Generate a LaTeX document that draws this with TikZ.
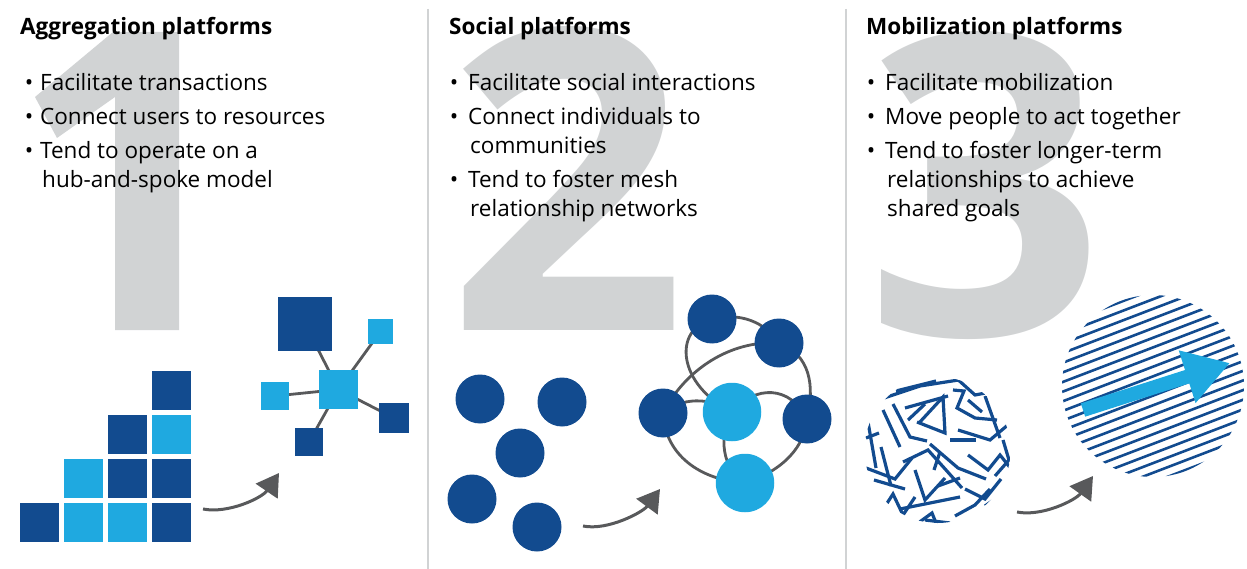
\documentclass[tikz,border=0pt]{standalone}
\usepackage{fontspec}
\setmainfont{Open Sans}
\usetikzlibrary{arrows.meta,backgrounds}

\definecolor{darkblue}{HTML}{124B8F}
\definecolor{lightblue}{HTML}{1FA9E0}
\definecolor{numgray}{HTML}{D1D3D4}
\definecolor{linegray}{HTML}{58595B}

\tikzset{
  sqdark/.style={rectangle,inner sep=0pt,fill=darkblue},
  sqlight/.style={rectangle,inner sep=0pt,fill=lightblue},
  dotdark/.style={circle,inner sep=0pt,minimum size=49pt,fill=darkblue},
  dotlight/.style={circle,inner sep=0pt,minimum size=58.5pt,fill=lightblue},
  spoke/.style={line width=2.8pt,color=linegray},
  mesh/.style={line width=2.8pt,color=linegray},
  maze/.style={line width=3.2pt,color=darkblue,line join=miter},
  stripe/.style={line width=2.6pt,color=darkblue},
  flow/.style={line width=3pt,color=linegray,-{Triangle[length=22pt,width=26pt]}},
  bigarrow/.style={line width=14pt,color=lightblue,-{Triangle[length=45pt,width=52pt]}},
  ttl/.style={anchor=base west,inner sep=0pt,font=\fontsize{22.5}{27}\selectfont\bfseries},
  txt/.style={anchor=base west,inner sep=0pt,font=\fontsize{22.5}{27}\selectfont},
  bul/.style={anchor=base,inner sep=0pt,font=\fontsize{22.5}{27}\selectfont},
  digit/.style={anchor=base west,inner sep=0pt,text=numgray,font=\fontsize{420}{420}\selectfont\bfseries},
  divider/.style={line width=2.5pt,color=numgray}
}

\begin{document}
\begin{tikzpicture}[x=1pt,y=-1pt]
  \useasboundingbox (0,0) rectangle (1247,569);

  % big numbers and column dividers
  \begin{scope}[on background layer]
    \fill[numgray] (113,32) -- (179,32) -- (179,330) -- (115,330) -- (115,97) -- (57,138) -- (35,97) -- cycle;
    \node[digit] (d2) at (447,330) {2};
    \node[digit] (d3) at (865,335) {3};
    \coordinate (v1t) at (428,9);
    \coordinate (v1b) at (428,569);
    \coordinate (v2t) at (846,9);
    \coordinate (v2b) at (846,569);
    \draw[divider] (v1t) -- (v1b);
    \draw[divider] (v2t) -- (v2b);
  \end{scope}

  % column 1
  \node[ttl] (h1) at (20,35) {Aggregation platforms};
  \node[bul] (b11) at (29,91) {•};
  \node[txt] (t11) at (40,91) {Facilitate transactions};
  \node[bul] (b12) at (29,125) {•};
  \node[txt] (t12) at (40,125) {Connect users to resources};
  \node[bul] (b13) at (29,159) {•};
  \node[txt] (t13) at (40,159) {Tend to operate on a};
  \node[txt] (t13b) at (42,188) {hub-and-spoke model};

  \node[sqdark,minimum size=39pt]  (g11) at (39.5,522.5) {};
  \node[sqlight,minimum size=39pt] (g12) at (83.5,522.5) {};
  \node[sqlight,minimum size=39pt] (g13) at (127.5,522.5) {};
  \node[sqdark,minimum size=39pt]  (g14) at (171.5,522.5) {};
  \node[sqlight,minimum size=39pt] (g22) at (83.5,478.5) {};
  \node[sqdark,minimum size=39pt]  (g23) at (127.5,478.5) {};
  \node[sqdark,minimum size=39pt]  (g24) at (171.5,478.5) {};
  \node[sqdark,minimum size=39pt]  (g33) at (127.5,434.5) {};
  \node[sqlight,minimum size=39pt] (g34) at (171.5,434.5) {};
  \node[sqdark,minimum size=39pt]  (g44) at (171.5,390.5) {};

  \node[sqlight,minimum size=39pt] (hub) at (338.5,389.5) {};
  \node[sqdark,minimum size=54pt]  (sbig) at (305,324) {};
  \node[sqlight,minimum size=25pt] (stop) at (380.5,331.5) {};
  \node[sqlight,minimum size=28pt] (sleft) at (275,396) {};
  \node[sqdark,minimum size=30pt]  (sright) at (394,418) {};
  \node[sqdark,minimum size=28pt]  (sbot) at (309,442) {};
  \begin{scope}[on background layer]
    \draw[spoke] (hub.center) -- (sbig.center);
    \draw[spoke] (hub.center) -- (stop.center);
    \draw[spoke] (hub.center) -- (sleft.center);
    \draw[spoke] (hub.center) -- (sright.center);
    \draw[spoke] (hub.center) -- (sbot.center);
  \end{scope}

  \coordinate (f1s) at (203,509);
  \coordinate (f1e) at (279,473);
  \draw[flow] (f1s) .. controls (228,514) and (262,498) .. (f1e);

  % column 2
  \node[ttl] (h2) at (449,35) {Social platforms};
  \node[bul] (b21) at (454,91) {•};
  \node[txt] (t21) at (468,91) {Facilitate social interactions};
  \node[bul] (b22) at (454,125) {•};
  \node[txt] (t22) at (468,125) {Connect individuals to};
  \node[txt] (t22b) at (470,154) {communities};
  \node[bul] (b23) at (454,188) {•};
  \node[txt] (t23) at (468,188) {Tend to foster mesh};
  \node[txt] (t23b) at (470,217) {relationship networks};

  \node[dotdark] (c1) at (480,399) {};
  \node[dotdark] (c2) at (562,402) {};
  \node[dotdark] (c3) at (520,453) {};
  \node[dotdark] (c4) at (472,499) {};
  \node[dotdark] (c5) at (537,527) {};

  \node[dotdark]  (n1) at (712,319) {};
  \node[dotdark]  (n2) at (779,343) {};
  \node[dotdark]  (n3) at (663,413) {};
  \node[dotlight] (n4) at (732,412) {};
  \node[dotdark]  (n5) at (807,419) {};
  \node[dotlight] (n6) at (745,483) {};
  \begin{scope}[on background layer]
    \draw[mesh] (n1.center) .. controls (740,312) and (765,322) .. (n2.center);
    \draw[mesh] (n1.center) .. controls (672,330) and (678,385) .. (n4.center);
    \draw[mesh] (n3.center) .. controls (685,370) and (730,340) .. (n2.center);
    \draw[mesh] (n2.center) .. controls (810,355) and (815,385) .. (n5.center);
    \draw[mesh] (n3.center) .. controls (680,398) and (710,396) .. (n4.center);
    \draw[mesh] (n4.center) .. controls (755,385) and (790,385) .. (n5.center);
    \draw[mesh] (n3.center) .. controls (665,455) and (700,480) .. (n6.center);
    \draw[mesh] (n4.center) .. controls (718,435) and (722,470) .. (n6.center);
    \draw[mesh] (n5.center) .. controls (805,445) and (785,470) .. (n6.center);
  \end{scope}

  \coordinate (f2s) at (583,526);
  \coordinate (f2e) at (660,489);
  \draw[flow] (f2s) .. controls (608,531) and (643,512) .. (f2e);

  % column 3
  \node[ttl] (h3) at (866,35) {Mobilization platforms};
  \node[bul] (b31) at (871,91) {•};
  \node[txt] (t31) at (885,91) {Facilitate mobilization};
  \node[bul] (b32) at (871,125) {•};
  \node[txt] (t32) at (885,125) {Move people to act together};
  \node[bul] (b33) at (871,159) {•};
  \node[txt] (t33) at (885,159) {Tend to foster longer-term};
  \node[txt] (t33b) at (887,188) {relationships to achieve};
  \node[txt] (t33c) at (887,217) {shared goals};

  % scattered pattern
  \begin{scope}
    \clip (937.5,450) circle[radius=73];
    \draw[maze] (878,400) -- (920,386) -- (965,379);
    \draw[maze] (896,391) -- (936,381);
    \draw[maze] (955,377) -- (975,395) -- (996,391);
    \draw[maze] (905,408) -- (948,396);
    \draw[maze] (919,423) -- (943,397) -- (945,433) -- (917,422);
    \draw[maze] (953,390) -- (964,391) -- (957,408) -- (975,418) -- (997,420);
    \draw[maze] (985,396) -- (1000,438);
    \draw[maze] (868,422) -- (876,468);
    \draw[maze] (883,410) -- (900,447);
    \draw[maze] (893,404) -- (910,437) -- (927,441);
    \draw[maze] (958,430) -- (990,440) -- (1009,424);
    \draw[maze] (903,462) -- (928,450) -- (946,470) -- (962,488);
    \draw[maze] (930,444) -- (958,468) -- (986,479);
    \draw[maze] (866,468) -- (895,479) -- (912,458);
    \draw[maze] (968,455) -- (988,470) -- (1000,455) -- (1012,470);
    \draw[maze] (915,470) -- (925,500) -- (945,478);
    \draw[maze] (881,447) -- (891,486);
    \draw[maze] (950,440) -- (976,440);
    \draw[maze] (868,494) -- (882,511) -- (893,494) -- (903,515) -- (915,497);
    \draw[maze] (900,509) -- (960,497);
    \draw[maze] (914,526) -- (932,513) -- (938,528);
    \draw[maze] (955,516) -- (975,505) -- (990,489);
    \draw[maze] (965,489) -- (985,499) -- (1001,479);
    \draw[maze] (938,486) -- (960,478);
    \draw[maze] (874,480) -- (905,489);
    \draw[maze] (925,520) -- (950,523);
    \draw[maze] (985,506) -- (1002,494);
    \draw[maze] (866,438) -- (879,433);
    \draw[maze] (1003,440) -- (1009,460) -- (995,476);
    \draw[maze] (940,452) -- (934,470);
    \draw[maze] (968,400) -- (982,412);
    \draw[maze] (925,404) -- (908,420);
  \end{scope}

  % parallel stripes
  \begin{scope}
    \clip (1153,386) circle[radius=91];
    \foreach \k in {-11,...,11}
      \draw[stripe] ({1153+3.22*\k-100},{386+8.41*\k+38.3}) -- ({1153+3.22*\k+100},{386+8.41*\k-38.3});
  \end{scope}
  \coordinate (as) at (1083,410);
  \coordinate (ae) at (1230,363);
  \draw[bigarrow] (as) -- (ae);

  \coordinate (f3s) at (1017,512);
  \coordinate (f3e) at (1093,476);
  \draw[flow] (f3s) .. controls (1042,517) and (1076,500) .. (f3e);
\end{tikzpicture}
\end{document}
